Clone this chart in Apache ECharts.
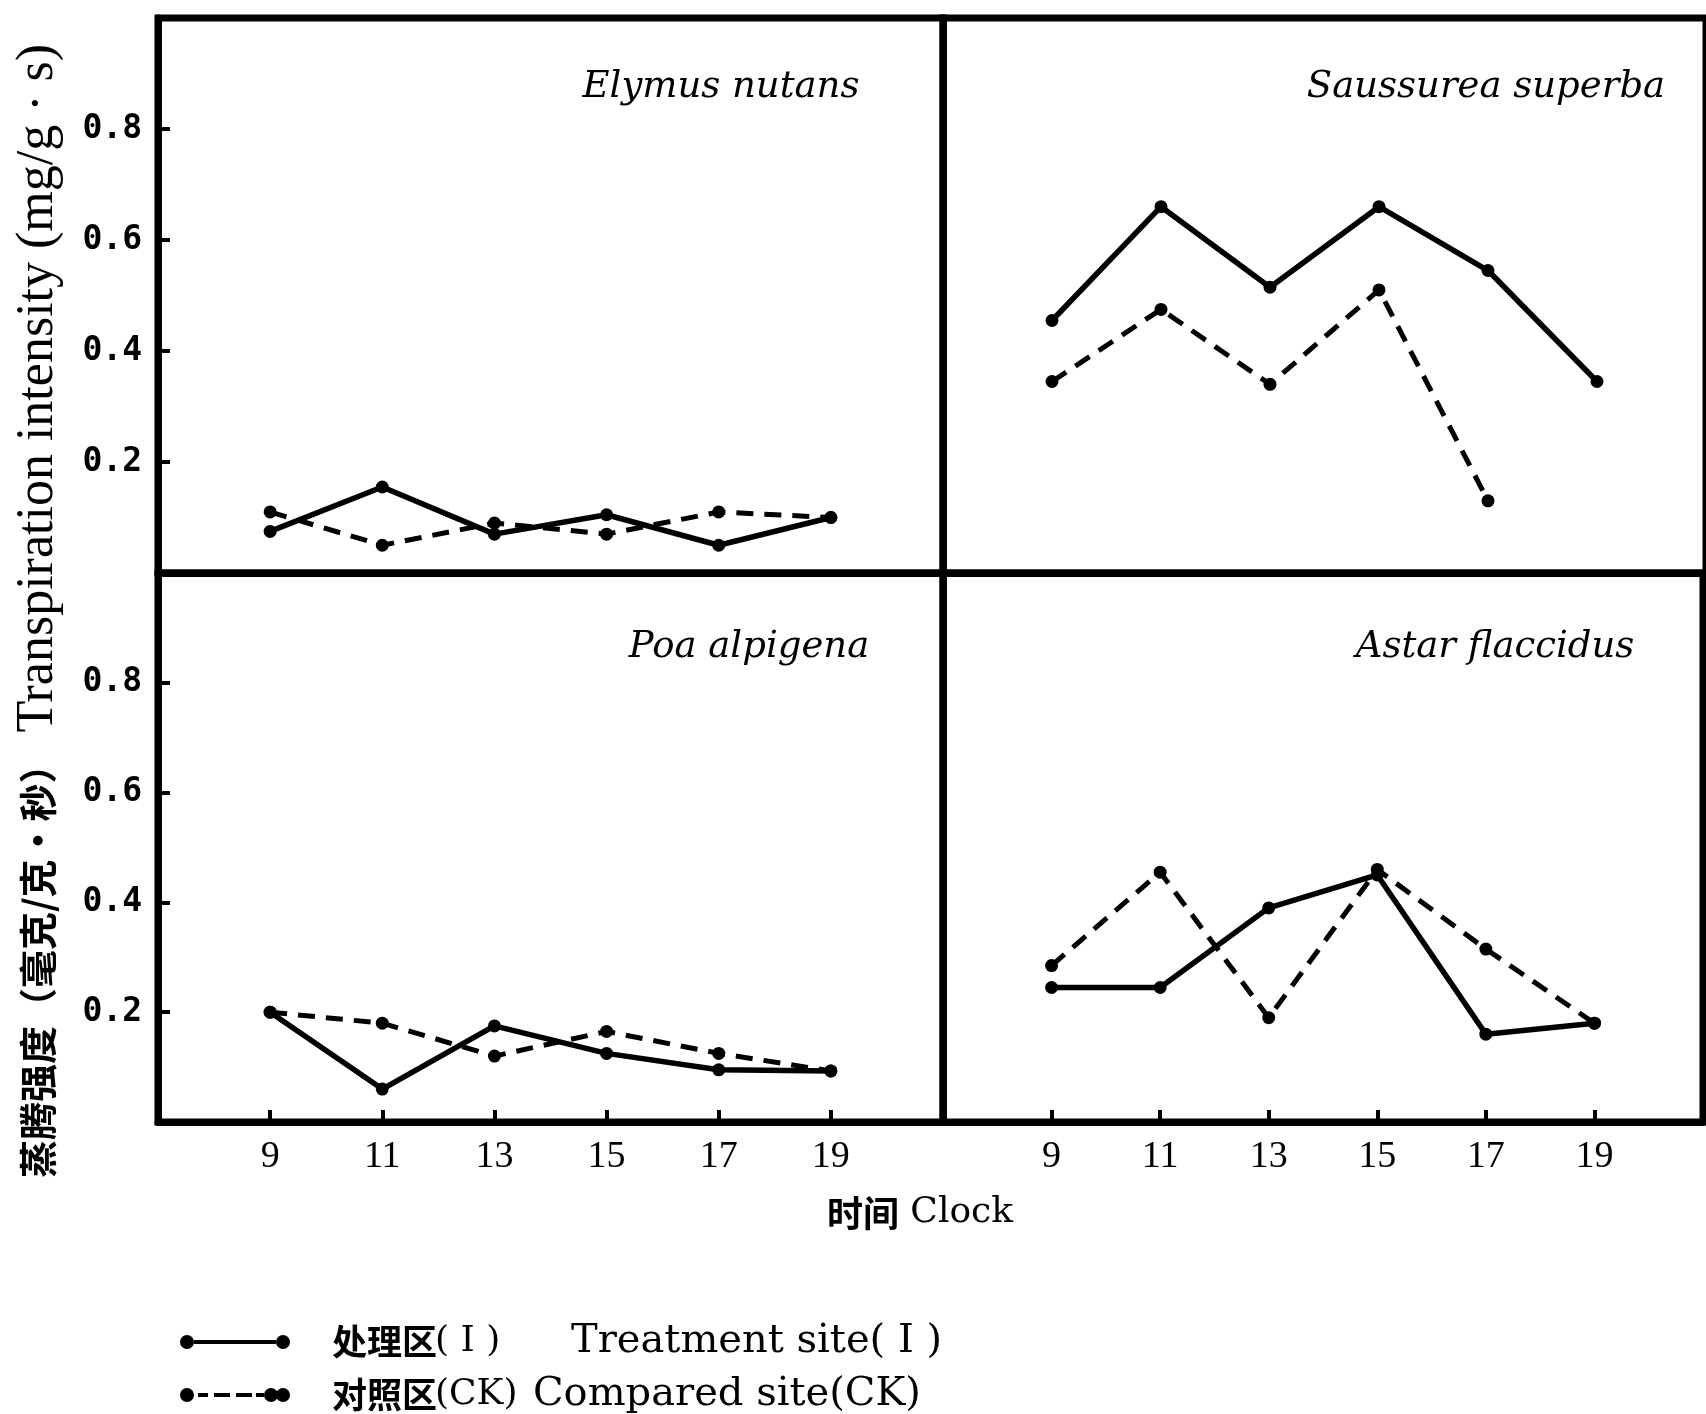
<!DOCTYPE html>
<html>
<head>
<meta charset="utf-8">
<script src="https://cdn.jsdelivr.net/npm/echarts@6/dist/echarts.min.js"></script>
<style>
  html, body { margin: 0; padding: 0; background: #fff; }
  #chart { width: 1706px; height: 1414px; }
</style>
</head>
<body>
<div id="chart"></div>
<script>
// ---------------- data ----------------
const hours = [9, 11, 13, 15, 17, 19];
const xTickLabels = ['9', '11', '13', '15', '17', '19'];
const yTickLabels = ['0.2', '0.4', '0.6', '0.8'];

const speciesNames = ['Elymus nutans', 'Saussurea superba', 'Poa alpigena', 'Astar flaccidus'];

const elymusTreat = [0.075, 0.155, 0.07, 0.105, 0.05, 0.10];
const elymusCK    = [0.11, 0.05, 0.09, 0.07, 0.11, 0.10];

const saussureaTreat = [0.455, 0.66, 0.515, 0.66, 0.545, 0.345];
const saussureaCK    = [0.345, 0.475, 0.34, 0.51, 0.13, null];

const poaTreat = [0.20, 0.06, 0.175, 0.125, 0.095, 0.093];
const poaCK    = [0.20, 0.18, 0.12, 0.165, 0.125, 0.093];

const astarTreat = [0.245, 0.245, 0.39, 0.45, 0.16, 0.18];
const astarCK    = [0.285, 0.455, 0.19, 0.46, 0.315, 0.18];

const legendCn  = ['处理区', '对照区'];
const legendTag = ['( I )', '(CK)'];
const legendEn  = ['Treatment site( I )', 'Compared site(CK)'];

const yTitleCn = '蒸腾强度（毫克/克·秒）';
const yTitleEn = 'Transpiration intensity (mg/g · s)';
const xTitleCn = '时间';
const xTitleEn = 'Clock';

// ---------------- layout ----------------
const CJK = "'Noto Sans CJK SC'";
const SERIF = "'DejaVu Serif'";
const TIMES = "'Liberation Serif'";

const grids = [
  { left: 158, top: 18,  width: 785, height: 555 },
  { left: 943, top: 18,  width: 781, height: 555 },
  { left: 158, top: 573, width: 785, height: 549 },
  { left: 943, top: 573, width: 781, height: 549 }
];
const panelData = [
  [elymusTreat, elymusCK],
  [saussureaTreat, saussureaCK],
  [poaTreat, poaCK],
  [astarTreat, astarCK]
];
const labelPos = [[721, 87], [1486, 87], [749, 647], [1495, 647]];

function pairs(vals) {
  return hours.map((h, i) => [h, vals[i] === null ? '-' : vals[i]]);
}

const xAxes = grids.map((g, i) => {
  const bottom = i >= 2;
  return {
    gridIndex: i, type: 'value', min: 7, max: 21, interval: 2,
    axisLine: { show: true, lineStyle: { color: '#000', width: 7 } },
    splitLine: { show: false },
    axisTick: { show: bottom, inside: true, length: 12, lineStyle: { color: '#000', width: 4 } },
    axisLabel: {
      show: bottom, margin: 16, color: '#000', fontFamily: TIMES, fontSize: 38,
      formatter: v => { const k = hours.indexOf(v); return k >= 0 ? xTickLabels[k] : ''; }
    }
  };
});
const yAxes = grids.map((g, i) => {
  const left = (i % 2) === 0;
  return {
    gridIndex: i, type: 'value', min: 0, max: 1, interval: 0.2,
    axisLine: { show: true, lineStyle: { color: '#000', width: 7 } },
    splitLine: { show: false },
    axisTick: { show: left, inside: true, length: 12, lineStyle: { color: '#000', width: 4 } },
    axisLabel: {
      show: left, margin: 16, color: '#000', fontFamily: "'DejaVu Sans Mono'", fontWeight: 'bold', fontSize: 33,
      formatter: v => { const s = v.toFixed(1); return yTickLabels.indexOf(s) >= 0 ? s : ''; }
    }
  };
});

const series = [];
panelData.forEach((pd, i) => {
  series.push({
    name: 'treat', type: 'line', xAxisIndex: i, yAxisIndex: i,
    data: pairs(pd[0]), symbol: 'circle', symbolSize: 13,
    itemStyle: { color: '#000' },
    lineStyle: { color: '#000', width: 5.5 }
  });
  series.push({
    name: 'ck', type: 'line', xAxisIndex: i, yAxisIndex: i,
    data: pairs(pd[1]), symbol: 'circle', symbolSize: 13,
    itemStyle: { color: '#000' },
    lineStyle: { color: '#000', width: 5, type: [17, 11] }
  });
});

const circ = x => `M${x},7a7,7 0 1,1 14,0a7,7 0 1,1 -14,0z`;
const iconSolid = 'path://' + circ(0) + ' M14,5h82v4h-82z ' + circ(96);
const iconDash = 'path://' + circ(0) + ' M18,5h10v4h-10z M34,5h16v4h-16z M56,5h16v4h-16z M76,5h8v4h-8z ' + circ(84) + circ(96);

const graphics = speciesNames.map((s, i) => ({
  type: 'text', x: labelPos[i][0], y: labelPos[i][1],
  style: { text: s, fill: '#000', font: "italic 37px 'DejaVu Serif'", align: 'center', verticalAlign: 'middle' }
}));
graphics.push({
  type: 'text', x: 38, y: 611, rotation: Math.PI / 2,
  style: {
    text: '{c|' + yTitleCn + '}{e| ' + yTitleEn + '}',
    align: 'center', verticalAlign: 'middle', fill: '#000',
    rich: {
      c: { fontFamily: CJK, fontWeight: 'bold', fontSize: 38, fill: '#000' },
      e: { fontFamily: TIMES, fontSize: 52, fill: '#000' }
    }
  }
});
graphics.push({
  type: 'text', x: 920, y: 1213,
  style: {
    text: '{c|' + xTitleCn + '}{e| ' + xTitleEn + '}',
    align: 'center', verticalAlign: 'middle', fill: '#000',
    rich: {
      c: { fontFamily: CJK, fontWeight: 'bold', fontSize: 36, fill: '#000' },
      e: { fontFamily: SERIF, fontSize: 36, fill: '#000' }
    }
  }
});

const legendRich = {
  c: { fontFamily: CJK, fontWeight: 'bold', fontSize: 35, width: 103, padding: [0, 0, 0, 37], lineHeight: 36 },
  t0: { fontFamily: SERIF, fontSize: 36, width: 136, lineHeight: 36 },
  t1: { fontFamily: SERIF, fontSize: 36, width: 98, lineHeight: 36 },
  e: { fontFamily: SERIF, fontSize: 40, lineHeight: 36 }
};
function legendFormatter(name) {
  const k = name === 'treat' ? 0 : 1;
  return '{c|' + legendCn[k] + '}{t' + k + '|' + legendTag[k] + '}{e|' + legendEn[k] + '}';
}
const legendTops = [1322, 1375];
const legends = [{ name: 'treat', icon: iconSolid }, { name: 'ck', icon: iconDash }].map((d, k) => ({
  orient: 'horizontal', left: 180, top: legendTops[k], padding: 0,
  itemWidth: 110, itemHeight: 14,
  itemStyle: { color: '#000', borderWidth: 0 },
  data: [d],
  formatter: legendFormatter,
  textStyle: { color: '#000', lineHeight: 36, rich: legendRich }
}));

const option = {
  animation: false,
  backgroundColor: '#fff',
  grid: grids.map(g => Object.assign({ show: true, borderColor: '#000', borderWidth: 7, containLabel: false }, g)),
  xAxis: xAxes,
  yAxis: yAxes,
  series: series,
  legend: legends,
  graphic: graphics
};

const chart = echarts.init(document.getElementById('chart'), null, { renderer: 'canvas' });
chart.setOption(option);
</script>
</body>
</html>
